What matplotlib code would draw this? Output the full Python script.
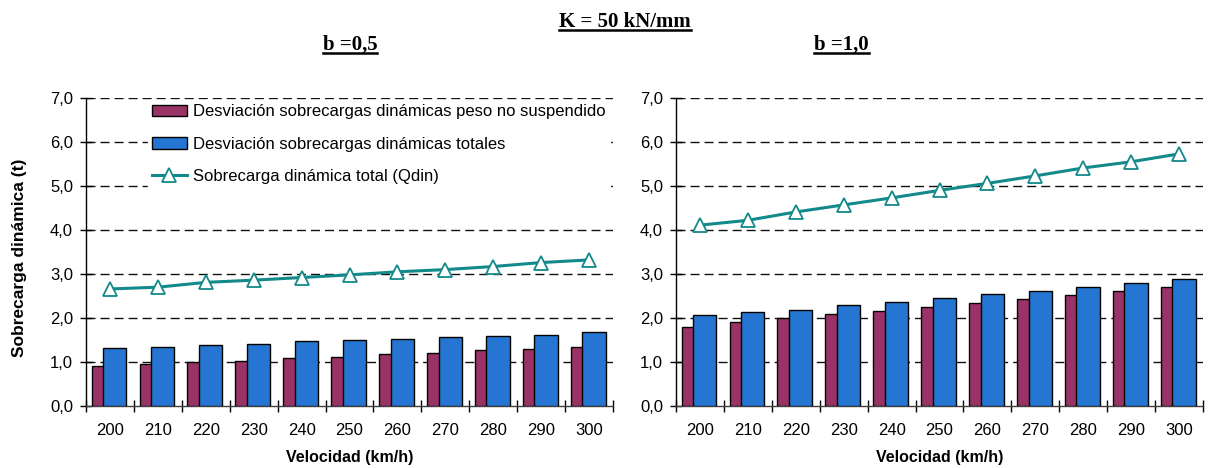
import matplotlib
matplotlib.use("Agg")
import matplotlib.pyplot as plt
from matplotlib.lines import Line2D
from matplotlib.patches import Patch
import numpy as np

# Speeds (km/h)
velocidades = ["200", "210", "220", "230", "240", "250", "260", "270", "280", "290", "300"]

# b = 0,5
desv_nsusp_05 = [0.92, 0.95, 1.00, 1.03, 1.09, 1.12, 1.18, 1.20, 1.27, 1.30, 1.35]
desv_total_05 = [1.32, 1.35, 1.39, 1.42, 1.48, 1.51, 1.53, 1.56, 1.59, 1.62, 1.68]
qdin_05 = [2.66, 2.70, 2.81, 2.86, 2.92, 2.98, 3.05, 3.10, 3.17, 3.26, 3.32]

# b = 1,0
desv_nsusp_10 = [1.79, 1.91, 2.00, 2.09, 2.17, 2.26, 2.34, 2.43, 2.52, 2.61, 2.70]
desv_total_10 = [2.06, 2.14, 2.19, 2.29, 2.37, 2.46, 2.55, 2.61, 2.70, 2.79, 2.88]
qdin_10 = [4.11, 4.22, 4.41, 4.57, 4.73, 4.90, 5.06, 5.23, 5.41, 5.55, 5.73]

y_ticks = [0, 1, 2, 3, 4, 5, 6, 7]

C_RED = "#993366"
C_BLUE = "#2576D2"
C_LINE = "#12898A"
SANS = ["Liberation Sans", "DejaVu Sans"]
SERIF = ["Liberation Serif", "DejaVu Serif"]
FS = 12

fig = plt.figure(figsize=(12.08, 4.68), dpi=100)
ax1 = fig.add_axes([0.0712, 0.1325, 0.4363, 0.6581])
ax2 = fig.add_axes([0.5596, 0.1325, 0.4363, 0.6581])

x = np.arange(len(velocidades))
w = 0.485


def draw_panel(ax, red, blue, line):
    ax.bar(x - 0.14, red, width=w, color=C_RED, edgecolor="black", linewidth=1.0, zorder=3)
    ax.bar(x + 0.10, blue, width=w, color=C_BLUE, edgecolor="black", linewidth=1.0, zorder=4)
    ax.plot(x, line, color=C_LINE, linewidth=2.2, marker="^", markersize=10,
            markerfacecolor="white", markeredgecolor=C_LINE, markeredgewidth=1.3, zorder=5)
    ax.set_xlim(-0.5, len(velocidades) - 0.5)
    ax.set_ylim(0, 7)
    ax.set_yticks(y_ticks)
    ax.set_yticklabels([f"{v:.1f}".replace(".", ",") for v in y_ticks], fontsize=FS, family=SANS)
    ax.set_xticks(x)
    ax.set_xticklabels(velocidades, fontsize=FS, family=SANS)
    ax.set_xticks(np.arange(-0.5, len(velocidades), 1.0), minor=True)
    ax.tick_params(axis="x", which="major", length=0, pad=12)
    ax.tick_params(axis="x", which="minor", direction="inout", length=8.6, width=1)
    ax.tick_params(axis="y", direction="inout", length=8.6, width=1, pad=5)
    for s in ("top", "right"):
        ax.spines[s].set_visible(False)
    ax.spines["left"].set_linewidth(1.0)
    ax.spines["bottom"].set_linewidth(1.0)
    ax.spines["bottom"].set_color("#404040")
    for v in y_ticks[1:]:
        ax.axhline(v, color="#111111", linestyle=(0, (6.5, 3.6)), linewidth=1.0, zorder=1)
    ax.set_xlabel("Velocidad (km/h)", fontsize=11.5, fontweight="bold", family=SANS, labelpad=9)


draw_panel(ax1, desv_nsusp_05, desv_total_05, qdin_05)
draw_panel(ax2, desv_nsusp_10, desv_total_10, qdin_10)
ax1.set_ylabel("Sobrecarga dinámica (t)", fontsize=12.5, fontweight="bold", family=SANS)
ax1.yaxis.set_label_coords(-0.112, 0.48)

handles = [
    Patch(facecolor=C_RED, edgecolor="black", linewidth=1.0),
    Patch(facecolor=C_BLUE, edgecolor="black", linewidth=1.0),
    Line2D([], [], color=C_LINE, linewidth=2.2, marker="^", markersize=10,
           markerfacecolor="white", markeredgecolor=C_LINE, markeredgewidth=1.3),
]
labels = [
    "Desviación sobrecargas dinámicas peso no suspendido",
    "Desviación sobrecargas dinámicas totales",
    "Sobrecarga dinámica total (Qdin)",
]
leg = ax1.legend(handles, labels, loc="upper left", bbox_to_anchor=(0.117, 0.993),
                 frameon=True, fancybox=False, framealpha=1.0, edgecolor="white",
                 prop={"family": SANS, "size": FS}, handlelength=2.1, handleheight=0.7,
                 handletextpad=0.39, labelspacing=1.05, borderpad=0.25, borderaxespad=0.0)
leg.set_zorder(10)

# Titles (bold, underlined)
titles = [
    (0.5174, 0.943, "K = 50 kN/mm"),
    (0.2897, 0.893, "b =0,5"),
    (0.6968, 0.893, "b =1,0"),
]
texts = []
for tx, ty, s in titles:
    t = fig.text(tx, ty, s, ha="center", va="baseline", fontsize=15,
                 fontweight="bold", family=SERIF)
    texts.append(t)

fig.canvas.draw()
renderer = fig.canvas.get_renderer()
inv = fig.transFigure.inverted()
for t, (tx, ty, s) in zip(texts, titles):
    bb = t.get_window_extent(renderer)
    (x0, _), (x1, _) = inv.transform([(bb.x0, bb.y0), (bb.x1, bb.y1)])
    yl = ty - 3.0 / 468
    fig.add_artist(Line2D([x0, x1], [yl, yl], transform=fig.transFigure,
                          color="black", linewidth=1.8))

fig.savefig("out.png", dpi=100)
